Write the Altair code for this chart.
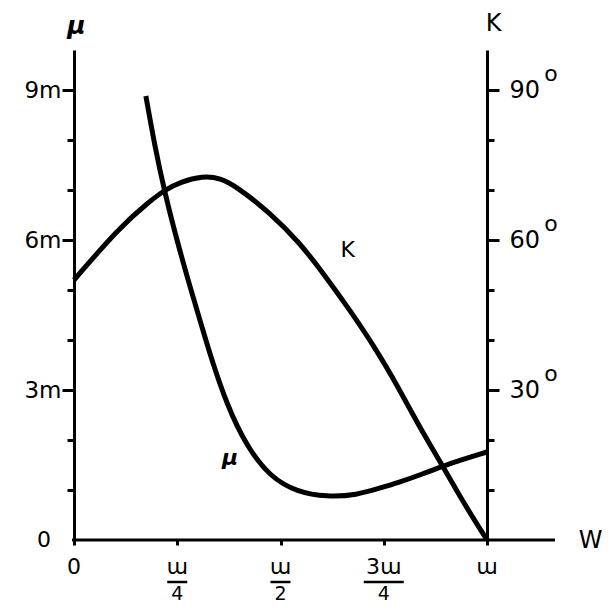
import altair as alt
import pandas as pd

# ---- data ----
w_mu = [0.174, 0.196, 0.220, 0.249, 0.281, 0.310, 0.329, 0.370, 0.419, 0.475,
        0.540, 0.613, 0.685, 0.741, 0.782, 0.845, 0.898, 1.0]
mu_m = [8.88, 7.86, 6.94, 6.0, 5.06, 4.26, 3.72, 2.70, 1.86, 1.26,
        0.96, 0.86, 0.90, 1.04, 1.14, 1.32, 1.50, 1.76]

w_k = [0.0, 0.111, 0.184, 0.220, 0.257, 0.312, 0.354, 0.395, 0.475, 0.547,
       0.603, 0.668, 0.734, 0.782, 0.838, 0.893, 0.942, 1.0]
k_deg = [52, 62.6, 67.8, 70, 71.6, 72.8, 72.4, 70.6, 65.4, 59.4,
         53.4, 46, 37.8, 31, 22.4, 14.8, 7.6, 0]

x_ticks = [0, 0.25, 0.5, 0.75, 1.0]
x_num = ["0", "ɯ", "ɯ", "3ɯ", "ɯ"]
half_ticks = [0.25, 0.5]
wide_ticks = [0.75]
den_ticks = [0.25, 0.5, 0.75]
den_text = ["4", "2", "4"]
mu_ticks = [1, 2, 3, 4, 5, 6, 7, 8, 9]
k_ticks = [10, 20, 30, 40, 50, 60, 70, 80, 90]
k_major = [30, 60, 90]
curve_label_w = [0.663, 0.378]
curve_label_v = [5.8, 1.64]
curve_label_t = ["K", "μ"]

W, H = 413, 490
FONT = "DejaVu Sans"

df_mu = pd.DataFrame({"w": w_mu, "mu": mu_m})
df_k = pd.DataFrame({"w": w_k, "K": k_deg})
df_xt = pd.DataFrame({"w": x_ticks, "t": x_num})
df_half = pd.DataFrame({"w": half_ticks})
df_wide = pd.DataFrame({"w": wide_ticks})
df_den = pd.DataFrame({"w": den_ticks, "t": den_text})
df_deg = pd.DataFrame({"K": k_major})
df_zero = pd.DataFrame({"mu": [0]})
df_lab_k = pd.DataFrame({"w": [curve_label_w[0]], "mu": [curve_label_v[0]], "t": [curve_label_t[0]]})
df_lab_mu = pd.DataFrame({"w": [curve_label_w[1]], "mu": [curve_label_v[1]], "t": [curve_label_t[1]]})

x_scale = alt.Scale(domain=[0, 1], nice=False, zero=False)
mu_scale = alt.Scale(domain=[0, 9.8], nice=False, zero=False)
k_scale = alt.Scale(domain=[0, 98], nice=False, zero=False)

x_axis = alt.Axis(values=x_ticks, labels=False, domain=False, grid=False,
                  tickSize=5, tickWidth=3, tickColor="black",
                  title="W", titleX=516, titleY=0, titleAngle=0,
                  titleAlign="center", titleBaseline="middle",
                  titleFont=FONT, titleFontSize=24, titleFontWeight="normal",
                  titleColor="black")


def X(field="w"):
    return alt.X(f"{field}:Q", scale=x_scale, axis=x_axis)


mu_axis = alt.Axis(
    orient="left", values=mu_ticks, grid=False,
    domainWidth=3, domainColor="black", tickColor="black", tickWidth=3,
    tickSize={"condition": {"test": "datum.value % 3 === 0", "value": 12}, "value": 7},
    labelExpr="datum.value % 3 === 0 ? datum.value + 'm' : ''",
    labelFont=FONT, labelFontSize=23, labelColor="black", labelPadding=1,
    title="μ", titleAngle=0, titleX=2, titleY=-17, titleAlign="center",
    titleBaseline="alphabetic", titleFont=FONT, titleFontSize=25,
    titleFontStyle="italic", titleFontWeight="bold", titleColor="black")

k_axis = alt.Axis(
    orient="right", values=k_ticks, grid=False,
    domainWidth=3, domainColor="black", tickColor="black", tickWidth=3,
    tickSize={"condition": {"test": "datum.value % 30 === 0", "value": 12}, "value": 7},
    labelExpr="datum.value % 30 === 0 ? '' + datum.value : ''",
    labelFont=FONT, labelFontSize=24, labelColor="black", labelPadding=10,
    title="K", titleAngle=0, titleX=6, titleY=-20, titleAlign="center",
    titleBaseline="alphabetic", titleFont=FONT, titleFontSize=24,
    titleFontWeight="normal", titleColor="black")

mu_line = alt.Chart(df_mu).mark_line(color="black", strokeWidth=5, interpolate="basis", strokeCap="butt").encode(
    x=X(), y=alt.Y("mu:Q", scale=mu_scale, axis=mu_axis))

k_line = alt.Chart(df_k).mark_line(color="black", strokeWidth=5, interpolate="basis", strokeCap="butt").encode(
    x=X(), y=alt.Y("K:Q", scale=k_scale, axis=k_axis))

x_line = alt.Chart(df_zero).mark_rule(color="black", strokeWidth=3).encode(
    x=alt.value(-2), x2=alt.value(W + 68), y=alt.Y("mu:Q", scale=mu_scale, axis=None))

zero_lab = alt.Chart(df_zero).mark_text(font=FONT, fontSize=22, color="black", align="center", baseline="middle").encode(
    x=alt.value(-30), y=alt.Y("mu:Q", scale=mu_scale, axis=None), text=alt.value("0"))

num = alt.Chart(df_xt).mark_text(font=FONT, fontSize=22, color="black", align="center", baseline="middle").encode(
    x=X(), y=alt.value(H + 27), text="t:N")

bars_half = alt.Chart(df_half).mark_rule(color="black", strokeWidth=2.5, xOffset=-10, x2Offset=10).encode(
    x=X(), x2="w:Q", y=alt.value(H + 42))

bars_wide = alt.Chart(df_wide).mark_rule(color="black", strokeWidth=2.5, xOffset=-20, x2Offset=20).encode(
    x=X(), x2="w:Q", y=alt.value(H + 42))

den = alt.Chart(df_den).mark_text(font=FONT, fontSize=19, color="black", align="center", baseline="middle").encode(
    x=X(), y=alt.value(H + 54), text="t:N")

deg = alt.Chart(df_deg).mark_text(font=FONT, fontSize=22, color="black", align="center", baseline="middle", dy=-16).encode(
    x=alt.value(W + 64), y=alt.Y("K:Q", scale=k_scale, axis=None), text=alt.value("o"))

lab_k = alt.Chart(df_lab_k).mark_text(font=FONT, fontSize=22, color="black", align="center", baseline="middle").encode(
    x=X(), y=alt.Y("mu:Q", scale=mu_scale, axis=None), text="t:N")

lab_mu = alt.Chart(df_lab_mu).mark_text(font=FONT, fontSize=22, fontStyle="italic", fontWeight="bold", color="black", align="center", baseline="middle").encode(
    x=X(), y=alt.Y("mu:Q", scale=mu_scale, axis=None), text="t:N")

chart = alt.layer(
    mu_line, k_line, x_line, zero_lab, num, bars_half, bars_wide, den, deg, lab_k, lab_mu
).resolve_scale(y="independent").properties(
    width=W, height=H,
    autosize=alt.AutoSizeParams(type="none"),
    padding={"left": 66, "top": 42, "right": 118, "bottom": 66},
    background="white",
).configure_view(stroke=None)

chart.save("out.html", embed_options={"renderer": "svg", "actions": False})
